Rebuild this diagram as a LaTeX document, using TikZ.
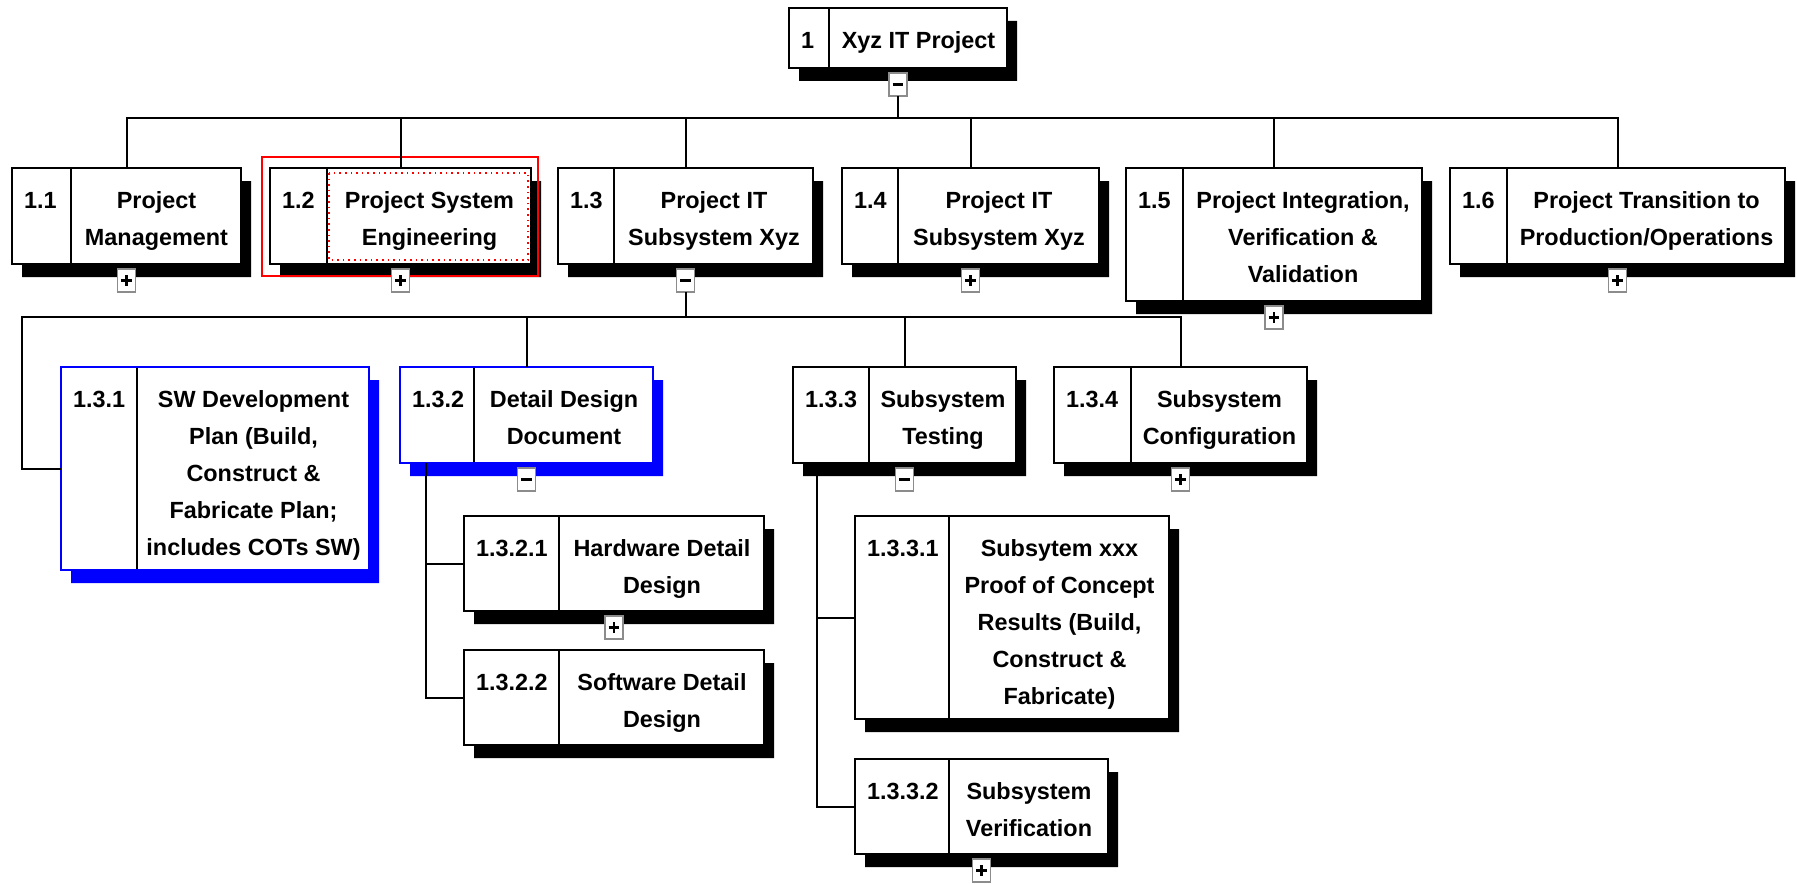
\documentclass[tikz,border=0pt]{standalone}
\usepackage{fontspec}
\setmainfont{Liberation Sans}
\usetikzlibrary{shapes.multipart,shadows}
\newcommand{\wcell}[3]{\parbox[c][#2][t]{#1}{\vspace*{12pt}#3}}
\tikzset {wbs/.style={rectangle split, rectangle split horizontal, rectangle split parts=2,
    draw, line width=1pt, fill=white, inner sep=0pt, outer sep=0pt, anchor=north west,
    font=\fontsize{11.7}{18.5}\selectfont\bfseries,
    drop shadow={fill=#1, opacity=1, shadow xshift=5pt, shadow yshift=-6.5pt}},
  wbs/.default=black,
  conn/.style={line width=1pt},
  pm/.style={draw=black!45, line width=0.9pt, fill=white, minimum width=9pt, minimum height=11.5pt,
    inner sep=0pt, outer sep=0pt, anchor=north, yshift=-2.5pt},
  plus/.style={pm, path picture={\draw[black, line width=1.2pt] (path picture bounding box.center) +(-2.7pt,0) -- +(2.7pt,0)
    (path picture bounding box.center) +(0,-2.7pt) -- +(0,2.7pt);}},
  minus/.style={pm, path picture={\draw[black, line width=1.2pt] (path picture bounding box.center) +(-2.7pt,0) -- +(2.7pt,0);}}}

\begin{document}
\begin{tikzpicture}[x=0.5pt,y=-0.5pt]
\useasboundingbox (0,0) rectangle (1797,883);
\node[wbs] (r1) at (789,8) {\wcell{19.5pt}{30pt}{\hspace*{6pt}1}\nodepart{two}\wcell{88.5pt}{30pt}{\centering Xyz IT Project}};
\node[wbs] (p11) at (12,168) {\wcell{29pt}{48pt}{\hspace*{6pt}1.1}\nodepart{two}\wcell{84.5pt}{48pt}{\centering Project\\Management}};
\node[wbs] (p12) at (270,168) {\wcell{28pt}{48pt}{\hspace*{6pt}1.2}\nodepart{two}\wcell{101.5pt}{48pt}{\centering Project System\\Engineering}};
\node[wbs] (p13) at (558,168) {\wcell{27.5pt}{48pt}{\hspace*{6pt}1.3}\nodepart{two}\wcell{99pt}{48pt}{\centering Project IT\\Subsystem Xyz}};
\node[wbs] (p14) at (842,168) {\wcell{27.5pt}{48pt}{\hspace*{6pt}1.4}\nodepart{two}\wcell{100pt}{48pt}{\centering Project IT\\Subsystem Xyz}};
\node[wbs] (p15) at (1126,168) {\wcell{28pt}{66.5pt}{\hspace*{6pt}1.5}\nodepart{two}\wcell{119pt}{66.5pt}{\centering Project Integration,\\Verification \&\\Validation}};
\node[wbs] (p16) at (1450,168) {\wcell{28pt}{48pt}{\hspace*{6pt}1.6}\nodepart{two}\wcell{138.5pt}{48pt}{\centering Project Transition to\\Production/Operations}};
\node[wbs=blue] (p131) at (61,367) {\wcell{37.5pt}{101.5pt}{\hspace*{6pt}1.3.1}\nodepart{two}\wcell{115.5pt}{101.5pt}{\centering SW Development\\Plan (Build,\\Construct \&\\Fabricate Plan;\\includes COTs SW)}};
\node[wbs=blue] (p132) at (400,367) {\wcell{36.5pt}{48pt}{\hspace*{6pt}1.3.2}\nodepart{two}\wcell{89pt}{48pt}{\centering Detail Design\\Document}};
\node[wbs] (p133) at (793,367) {\wcell{37.5pt}{48pt}{\hspace*{6pt}1.3.3}\nodepart{two}\wcell{73pt}{48pt}{\centering Subsystem\\Testing}};
\node[wbs] (p134) at (1054,367) {\wcell{38pt}{48pt}{\hspace*{6pt}1.3.4}\nodepart{two}\wcell{87.5pt}{48pt}{\centering Subsystem\\Configuration}};
\node[wbs] (p1321) at (464,516) {\wcell{47pt}{47.5pt}{\hspace*{6pt}1.3.2.1}\nodepart{two}\wcell{102pt}{47.5pt}{\centering Hardware Detail\\Design}};
\node[wbs] (p1322) at (464,650) {\wcell{47pt}{47.5pt}{\hspace*{6pt}1.3.2.2}\nodepart{two}\wcell{102pt}{47.5pt}{\centering Software Detail\\Design}};
\node[wbs] (p1331) at (855,516) {\wcell{46.5pt}{101.5pt}{\hspace*{6pt}1.3.3.1}\nodepart{two}\wcell{109.5pt}{101.5pt}{\centering Subsytem xxx\\Proof of Concept\\Results (Build,\\Construct \&\\Fabricate)}};
\node[wbs] (p1332) at (855,759) {\wcell{46.5pt}{47.5pt}{\hspace*{6pt}1.3.3.2}\nodepart{two}\wcell{79pt}{47.5pt}{\centering Subsystem\\Verification}};

\draw[blue, line width=1pt] (p131.north west) rectangle (p131.south east);
\draw[blue, line width=1pt] (p132.north west) rectangle (p132.south east);
\draw[red, line width=1pt] ([xshift=-4pt,yshift=5.5pt]p12.north west) rectangle ([xshift=3.5pt,yshift=-6pt]p12.south east);
\draw[red, dotted, line width=0.8pt] ([xshift=29.5pt,yshift=-2.5pt]p12.north west) rectangle ([xshift=-1.5pt,yshift=2pt]p12.south east);

\node[minus] (r1s) at (r1.south) {};
\node[plus] (p11s) at (p11.south) {};
\node[plus] (p12s) at (p12.south) {};
\node[minus] (p13s) at (p13.south) {};
\node[plus] (p14s) at (p14.south) {};
\node[plus] (p15s) at (p15.south) {};
\node[plus] (p16s) at (p16.south) {};
\node[minus] (p132s) at (p132.south) {};
\node[minus] (p133s) at (p133.south) {};
\node[plus] (p134s) at (p134.south) {};
\node[plus] (p1321s) at (p1321.south) {};
\node[plus] (p1332s) at (p1332.south) {};

\coordinate (y1) at (0,118);
\coordinate (y2) at (0,317);
\coordinate (bus1) at (r1s.south |- y1);
\coordinate (bus2) at (p13s.south |- y2);
\coordinate (lft) at (22,317);
\coordinate (v132) at (426,463);
\coordinate (v133) at (817,463);
\draw[conn] (r1s.south) -- (bus1);
\foreach \c in {p11,p12,p13,p14,p15,p16} \draw[conn] (bus1) -| (\c.north);
\draw[conn] (p13s.south) -- (bus2);
\foreach \c in {p132,p133,p134} \draw[conn] (bus2) -| (\c.north);
\draw[conn] (bus2) -- (lft) |- (p131.west);
\draw[conn] (v132) |- (p1321.west);
\draw[conn] (v132) |- (p1322.west);
\draw[conn] (v133) |- (p1331.west);
\draw[conn] (v133) |- (p1332.west);
\end{tikzpicture}
\end{document}
